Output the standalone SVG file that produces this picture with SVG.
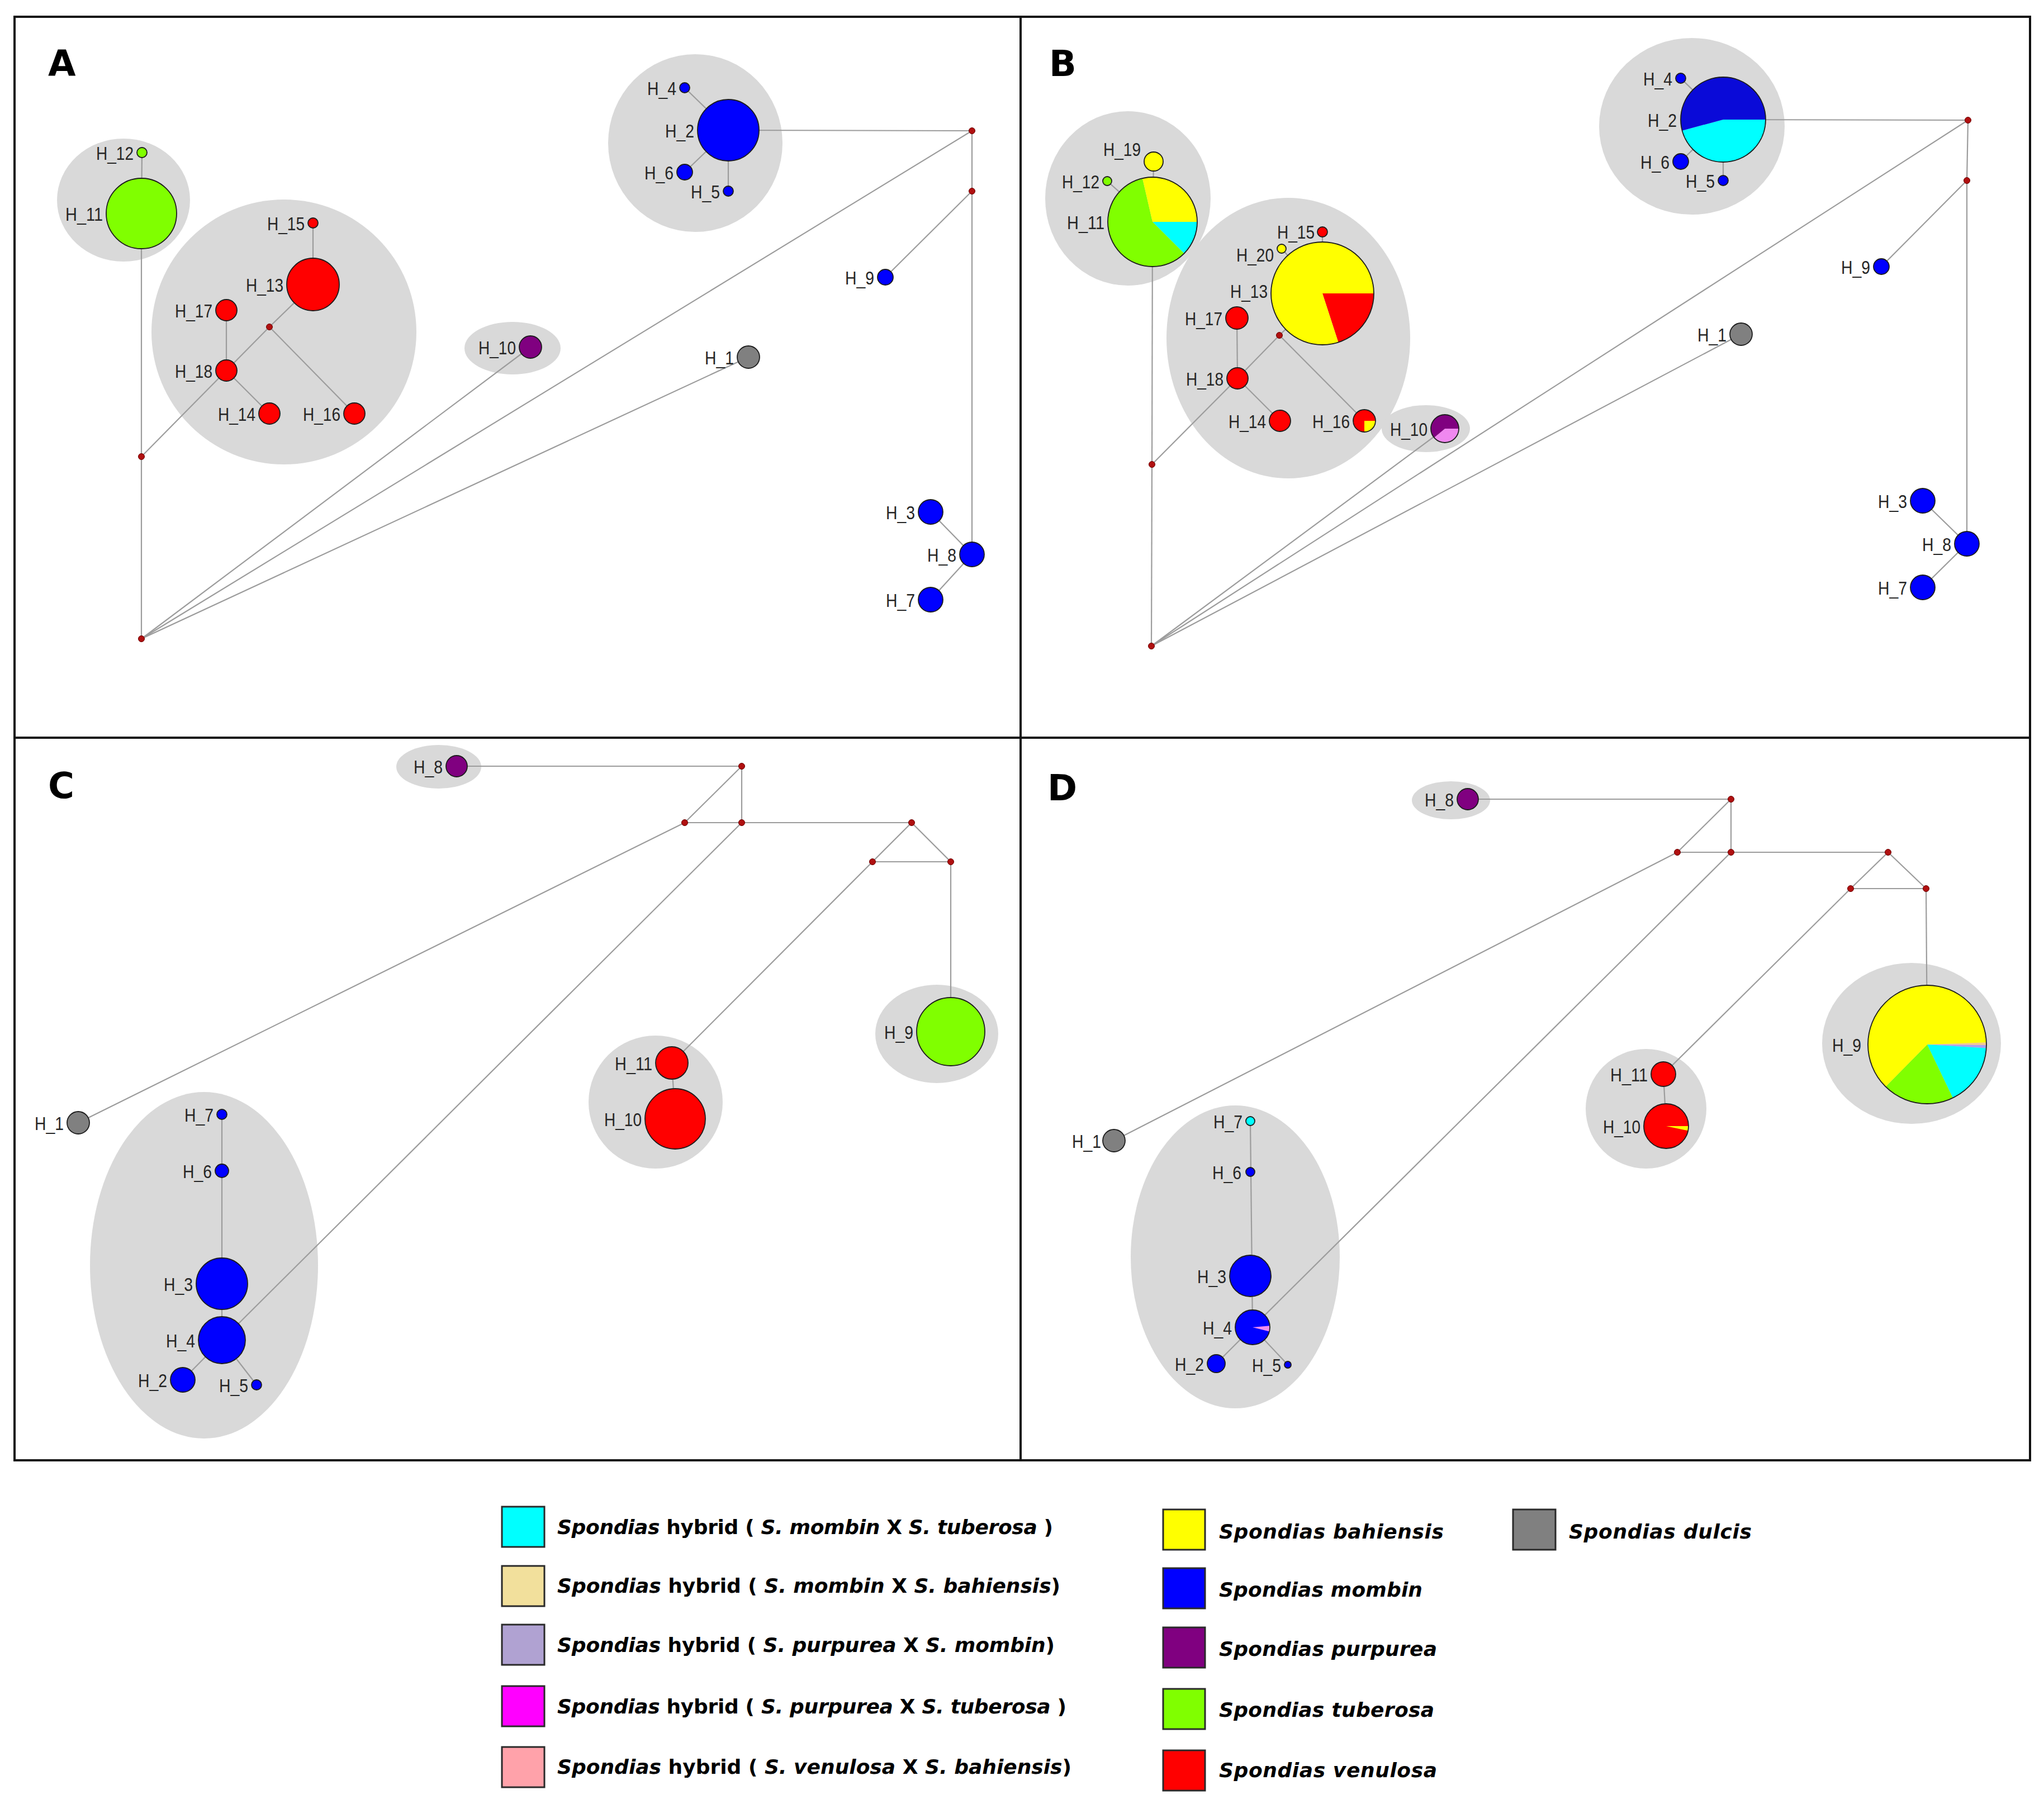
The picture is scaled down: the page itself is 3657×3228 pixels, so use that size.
<svg xmlns="http://www.w3.org/2000/svg" width="3657" height="3228" viewBox="0 0 3657 3228">
<style>
.bg{fill:#ffffff}
.frame{fill:none;stroke:#111;stroke-width:4}
.cl{fill:#d9d9d9}
.e{stroke:#9c9c9c;stroke-width:2.2;fill:none}
.n{stroke:#1c1c1c;stroke-width:1.8}
.o{fill:none;stroke:#1c1c1c;stroke-width:1.8}
.mv{fill:#b01010;stroke:#6a0000;stroke-width:1}
.lb{font-family:"Liberation Sans",Arial,sans-serif;font-size:34px;fill:#262626;text-anchor:end}
.pl{font-family:"DejaVu Sans","Liberation Sans",sans-serif;font-weight:bold;font-size:64px;fill:#000}
.lg{font-family:"DejaVu Sans","Liberation Sans",sans-serif;font-weight:bold;font-size:36px;fill:#000}
.it{font-style:italic}
.bx{stroke:#2a2a2a;stroke-width:3}
.blue{fill:#0000ff}.red{fill:#ff0000}.green{fill:#80ff00}.purple{fill:#800080}.grey{fill:#808080}.yellow{fill:#ffff00}.cyan{fill:#00ffff}
</style>
<rect class="bg" x="0" y="0" width="3657" height="3228"/>

<g id="frame">
<rect class="frame" x="26" y="30" width="3606" height="2583"/>
<line class="frame" x1="1826" y1="30" x2="1826" y2="2613"/>
<line class="frame" x1="26" y1="1320" x2="3632" y2="1320"/>
</g>

<g id="panel-labels">
<text class="pl" x="86" y="136">A</text>
<text class="pl" x="1877" y="136">B</text>
<text class="pl" x="86" y="1428">C</text>
<text class="pl" x="1874" y="1432">D</text>
</g>

<g id="clusters">
<ellipse class="cl" cx="221" cy="358" rx="119" ry="110"/>
<ellipse class="cl" cx="508" cy="594" rx="237" ry="237"/>
<ellipse class="cl" cx="917" cy="623" rx="86" ry="47"/>
<ellipse class="cl" cx="1244" cy="256" rx="156" ry="159"/>
<ellipse class="cl" cx="2018" cy="355" rx="148" ry="156"/>
<ellipse class="cl" cx="2305" cy="605" rx="218" ry="251"/>
<ellipse class="cl" cx="2551" cy="767" rx="79" ry="42"/>
<ellipse class="cl" cx="3027" cy="226" rx="166" ry="158"/>
<ellipse class="cl" cx="785" cy="1372" rx="76" ry="39"/>
<ellipse class="cl" cx="1676" cy="1850" rx="110" ry="88"/>
<ellipse class="cl" cx="1173" cy="1972" rx="120" ry="119"/>
<ellipse class="cl" cx="365" cy="2264" rx="204" ry="310"/>
<ellipse class="cl" cx="2596" cy="1432" rx="70" ry="34"/>
<ellipse class="cl" cx="3420" cy="1867" rx="160" ry="144"/>
<ellipse class="cl" cx="2945" cy="1984" rx="108" ry="107"/>
<ellipse class="cl" cx="2210" cy="2249" rx="187" ry="271"/>
</g>

<g id="connectors">
<!-- Panel A -->
<line class="e" x1="254" y1="273" x2="253" y2="382"/>
<line class="e" x1="253" y1="382" x2="253" y2="817"/>
<line class="e" x1="253" y1="817" x2="253" y2="1143"/>
<line class="e" x1="253" y1="817" x2="405" y2="663"/>
<line class="e" x1="405" y1="663" x2="482" y2="585"/>
<line class="e" x1="405" y1="555" x2="405" y2="663"/>
<line class="e" x1="405" y1="663" x2="482" y2="740"/>
<line class="e" x1="482" y1="585" x2="560" y2="509"/>
<line class="e" x1="482" y1="585" x2="634" y2="740"/>
<line class="e" x1="560" y1="399" x2="560" y2="509"/>
<line class="e" x1="253" y1="1143" x2="949" y2="621"/>
<line class="e" x1="253" y1="1143" x2="1739" y2="234"/>
<line class="e" x1="253" y1="1143" x2="1339" y2="639"/>
<line class="e" x1="1739" y1="234" x2="1303" y2="233"/>
<line class="e" x1="1739" y1="234" x2="1739" y2="342"/>
<line class="e" x1="1739" y1="342" x2="1739" y2="992"/>
<line class="e" x1="1739" y1="342" x2="1584" y2="496"/>
<line class="e" x1="1739" y1="992" x2="1665" y2="916"/>
<line class="e" x1="1739" y1="992" x2="1665" y2="1073"/>
<line class="e" x1="1303" y1="233" x2="1225" y2="157"/>
<line class="e" x1="1303" y1="233" x2="1225" y2="308"/>
<line class="e" x1="1303" y1="233" x2="1303" y2="342"/>
<!-- Panel B -->
<line class="e" x1="2064" y1="289" x2="2062" y2="397"/>
<line class="e" x1="1981" y1="324" x2="2062" y2="397"/>
<line class="e" x1="2062" y1="397" x2="2061" y2="831"/>
<line class="e" x1="2061" y1="831" x2="2060" y2="1156"/>
<line class="e" x1="2061" y1="831" x2="2214" y2="677"/>
<line class="e" x1="2214" y1="677" x2="2289" y2="600"/>
<line class="e" x1="2213" y1="569" x2="2214" y2="677"/>
<line class="e" x1="2214" y1="677" x2="2290" y2="753"/>
<line class="e" x1="2289" y1="600" x2="2366" y2="525"/>
<line class="e" x1="2289" y1="600" x2="2441" y2="753"/>
<line class="e" x1="2366" y1="415" x2="2366" y2="525"/>
<line class="e" x1="2293" y1="445" x2="2366" y2="525"/>
<line class="e" x1="2060" y1="1156" x2="2585" y2="767"/>
<line class="e" x1="2060" y1="1156" x2="3521" y2="215"/>
<line class="e" x1="2060" y1="1156" x2="3115" y2="598"/>
<line class="e" x1="3521" y1="215" x2="3083" y2="214"/>
<line class="e" x1="3521" y1="215" x2="3519" y2="323"/>
<line class="e" x1="3519" y1="323" x2="3519" y2="973"/>
<line class="e" x1="3519" y1="323" x2="3366" y2="477"/>
<line class="e" x1="3519" y1="973" x2="3440" y2="896"/>
<line class="e" x1="3519" y1="973" x2="3440" y2="1051"/>
<line class="e" x1="3083" y1="214" x2="3007" y2="140"/>
<line class="e" x1="3083" y1="214" x2="3007" y2="289"/>
<line class="e" x1="3083" y1="214" x2="3083" y2="323"/>
<!-- Panel C -->
<line class="e" x1="817" y1="1371" x2="1327" y2="1371"/>
<line class="e" x1="1327" y1="1371" x2="1327" y2="1472"/>
<line class="e" x1="1327" y1="1371" x2="1225" y2="1472"/>
<line class="e" x1="1225" y1="1472" x2="1631" y2="1472"/>
<line class="e" x1="1631" y1="1472" x2="1561" y2="1542"/>
<line class="e" x1="1631" y1="1472" x2="1701" y2="1542"/>
<line class="e" x1="1561" y1="1542" x2="1701" y2="1542"/>
<line class="e" x1="1701" y1="1542" x2="1701" y2="1846"/>
<line class="e" x1="1561" y1="1542" x2="1202" y2="1902"/>
<line class="e" x1="1202" y1="1902" x2="1208" y2="2002"/>
<line class="e" x1="1225" y1="1472" x2="140" y2="2009"/>
<line class="e" x1="1327" y1="1472" x2="397" y2="2398"/>
<line class="e" x1="397" y1="1994" x2="397" y2="2398"/>
<line class="e" x1="397" y1="2398" x2="327" y2="2469"/>
<line class="e" x1="397" y1="2398" x2="459" y2="2478"/>
<!-- Panel D -->
<line class="e" x1="2626" y1="1430" x2="3097" y2="1430"/>
<line class="e" x1="3097" y1="1430" x2="3097" y2="1525"/>
<line class="e" x1="3097" y1="1430" x2="3001" y2="1525"/>
<line class="e" x1="3001" y1="1525" x2="3378" y2="1525"/>
<line class="e" x1="3378" y1="1525" x2="3311" y2="1590"/>
<line class="e" x1="3378" y1="1525" x2="3446" y2="1590"/>
<line class="e" x1="3311" y1="1590" x2="3446" y2="1590"/>
<line class="e" x1="3446" y1="1590" x2="3448" y2="1869"/>
<line class="e" x1="3311" y1="1590" x2="2976" y2="1922"/>
<line class="e" x1="2976" y1="1922" x2="2981" y2="2015"/>
<line class="e" x1="3001" y1="1525" x2="1993" y2="2041"/>
<line class="e" x1="3097" y1="1525" x2="2241" y2="2375"/>
<line class="e" x1="2237" y1="2006" x2="2241" y2="2375"/>
<line class="e" x1="2241" y1="2375" x2="2176" y2="2440"/>
<line class="e" x1="2241" y1="2375" x2="2304" y2="2442"/>
</g>

<g id="median-vectors">
<circle class="mv" cx="253" cy="817" r="5.5"/>
<circle class="mv" cx="253" cy="1143" r="5.5"/>
<circle class="mv" cx="482" cy="585" r="5.5"/>
<circle class="mv" cx="1739" cy="234" r="5.5"/>
<circle class="mv" cx="1739" cy="342" r="5.5"/>
<circle class="mv" cx="2061" cy="831" r="5.5"/>
<circle class="mv" cx="2060" cy="1156" r="5.5"/>
<circle class="mv" cx="2289" cy="600" r="5.5"/>
<circle class="mv" cx="3521" cy="215" r="5.5"/>
<circle class="mv" cx="3519" cy="323" r="5.5"/>
<circle class="mv" cx="1327" cy="1371" r="5.5"/>
<circle class="mv" cx="1225" cy="1472" r="5.5"/>
<circle class="mv" cx="1327" cy="1472" r="5.5"/>
<circle class="mv" cx="1631" cy="1472" r="5.5"/>
<circle class="mv" cx="1561" cy="1542" r="5.5"/>
<circle class="mv" cx="1701" cy="1542" r="5.5"/>
<circle class="mv" cx="3097" cy="1430" r="5.5"/>
<circle class="mv" cx="3001" cy="1525" r="5.5"/>
<circle class="mv" cx="3097" cy="1525" r="5.5"/>
<circle class="mv" cx="3378" cy="1525" r="5.5"/>
<circle class="mv" cx="3311" cy="1590" r="5.5"/>
<circle class="mv" cx="3446" cy="1590" r="5.5"/>
</g>

<!-- Panel A nodes -->
<g id="A-H_1"><circle class="n grey" cx="1339" cy="639" r="20"/><text class="lb" x="1313" y="652" textLength="52" lengthAdjust="spacingAndGlyphs">H_1</text></g>
<g id="A-H_2"><circle class="n blue" cx="1303" cy="233" r="55"/><text class="lb" x="1242" y="246" textLength="52" lengthAdjust="spacingAndGlyphs">H_2</text></g>
<g id="A-H_3"><circle class="n blue" cx="1665" cy="916" r="22"/><text class="lb" x="1637" y="929" textLength="52" lengthAdjust="spacingAndGlyphs">H_3</text></g>
<g id="A-H_4"><circle class="n blue" cx="1225" cy="157" r="9"/><text class="lb" x="1210" y="170" textLength="52" lengthAdjust="spacingAndGlyphs">H_4</text></g>
<g id="A-H_5"><circle class="n blue" cx="1303" cy="342" r="9"/><text class="lb" x="1288" y="355" textLength="52" lengthAdjust="spacingAndGlyphs">H_5</text></g>
<g id="A-H_6"><circle class="n blue" cx="1225" cy="308" r="14"/><text class="lb" x="1205" y="321" textLength="52" lengthAdjust="spacingAndGlyphs">H_6</text></g>
<g id="A-H_7"><circle class="n blue" cx="1665" cy="1073" r="22"/><text class="lb" x="1637" y="1086" textLength="52" lengthAdjust="spacingAndGlyphs">H_7</text></g>
<g id="A-H_8"><circle class="n blue" cx="1739" cy="992" r="22"/><text class="lb" x="1711" y="1005" textLength="52" lengthAdjust="spacingAndGlyphs">H_8</text></g>
<g id="A-H_9"><circle class="n blue" cx="1584" cy="496" r="14"/><text class="lb" x="1564" y="509" textLength="52" lengthAdjust="spacingAndGlyphs">H_9</text></g>
<g id="A-H_10"><circle class="n purple" cx="949" cy="621" r="20"/><text class="lb" x="923" y="634" textLength="67" lengthAdjust="spacingAndGlyphs">H_10</text></g>
<g id="A-H_11"><circle class="n green" cx="253" cy="382" r="63"/><text class="lb" x="184" y="395" textLength="67" lengthAdjust="spacingAndGlyphs">H_11</text></g>
<g id="A-H_12"><circle class="n green" cx="254" cy="273" r="9"/><text class="lb" x="239" y="286" textLength="67" lengthAdjust="spacingAndGlyphs">H_12</text></g>
<g id="A-H_13"><circle class="n red" cx="560" cy="509" r="47"/><text class="lb" x="507" y="522" textLength="67" lengthAdjust="spacingAndGlyphs">H_13</text></g>
<g id="A-H_14"><circle class="n red" cx="482" cy="740" r="19"/><text class="lb" x="457" y="753" textLength="67" lengthAdjust="spacingAndGlyphs">H_14</text></g>
<g id="A-H_15"><circle class="n red" cx="560" cy="399" r="9"/><text class="lb" x="545" y="412" textLength="67" lengthAdjust="spacingAndGlyphs">H_15</text></g>
<g id="A-H_16"><circle class="n red" cx="634" cy="740" r="19"/><text class="lb" x="609" y="753" textLength="67" lengthAdjust="spacingAndGlyphs">H_16</text></g>
<g id="A-H_17"><circle class="n red" cx="405" cy="555" r="19"/><text class="lb" x="380" y="568" textLength="67" lengthAdjust="spacingAndGlyphs">H_17</text></g>
<g id="A-H_18"><circle class="n red" cx="405" cy="663" r="19"/><text class="lb" x="380" y="676" textLength="67" lengthAdjust="spacingAndGlyphs">H_18</text></g>

<!-- Panel B nodes -->
<g id="B-H_1"><circle class="n grey" cx="3115" cy="598" r="20"/><text class="lb" x="3089" y="611" textLength="52" lengthAdjust="spacingAndGlyphs">H_1</text></g>
<g id="B-H_2">
<path fill="#00ffff" d="M3083 214 L3159 214 A76 76 0 0 1 3009.6 233.7 Z"/>
<path fill="#0a0ad8" d="M3083 214 L3009.6 233.7 A76 76 0 1 1 3159 214 Z"/>
<circle class="o" cx="3083" cy="214" r="76"/>
<text class="lb" x="3000" y="227" textLength="52" lengthAdjust="spacingAndGlyphs">H_2</text></g>
<g id="B-H_3"><circle class="n blue" cx="3440" cy="896" r="22"/><text class="lb" x="3412" y="909" textLength="52" lengthAdjust="spacingAndGlyphs">H_3</text></g>
<g id="B-H_4"><circle class="n blue" cx="3007" cy="140" r="9"/><text class="lb" x="2992" y="153" textLength="52" lengthAdjust="spacingAndGlyphs">H_4</text></g>
<g id="B-H_5"><circle class="n blue" cx="3083" cy="323" r="9"/><text class="lb" x="3068" y="336" textLength="52" lengthAdjust="spacingAndGlyphs">H_5</text></g>
<g id="B-H_6"><circle class="n blue" cx="3007" cy="289" r="14"/><text class="lb" x="2987" y="302" textLength="52" lengthAdjust="spacingAndGlyphs">H_6</text></g>
<g id="B-H_7"><circle class="n blue" cx="3440" cy="1051" r="22"/><text class="lb" x="3412" y="1064" textLength="52" lengthAdjust="spacingAndGlyphs">H_7</text></g>
<g id="B-H_8"><circle class="n blue" cx="3519" cy="973" r="22"/><text class="lb" x="3491" y="986" textLength="52" lengthAdjust="spacingAndGlyphs">H_8</text></g>
<g id="B-H_9"><circle class="n blue" cx="3366" cy="477" r="14"/><text class="lb" x="3346" y="490" textLength="52" lengthAdjust="spacingAndGlyphs">H_9</text></g>
<g id="B-H_10">
<path fill="#f088f0" d="M2585 767 L2610 767 A25 25 0 0 1 2565.85 783.07 Z"/>
<path fill="#800080" d="M2585 767 L2565.85 783.07 A25 25 0 1 1 2610 767 Z"/>
<circle class="o" cx="2585" cy="767" r="25"/>
<text class="lb" x="2554" y="780" textLength="67" lengthAdjust="spacingAndGlyphs">H_10</text></g>
<g id="B-H_11">
<path fill="#00ffff" d="M2062 397 L2142 397 A80 80 0 0 1 2118.57 453.57 Z"/>
<path fill="#80ff00" d="M2062 397 L2118.57 453.57 A80 80 0 1 1 2044 319.05 Z"/>
<path fill="#ffff00" d="M2062 397 L2044 319.05 A80 80 0 0 1 2142 397 Z"/>
<circle class="o" cx="2062" cy="397" r="80"/>
<text class="lb" x="1976" y="410" textLength="67" lengthAdjust="spacingAndGlyphs">H_11</text></g>
<g id="B-H_12"><circle class="n green" cx="1981" cy="324" r="8"/><text class="lb" x="1967" y="337" textLength="67" lengthAdjust="spacingAndGlyphs">H_12</text></g>
<g id="B-H_13">
<path fill="#ff0000" d="M2366 525 L2458 525 A92 92 0 0 1 2394.43 612.5 Z"/>
<path fill="#ffff00" d="M2366 525 L2394.43 612.5 A92 92 0 1 1 2458 525 Z"/>
<circle class="o" cx="2366" cy="525" r="92"/>
<text class="lb" x="2268" y="533" textLength="67" lengthAdjust="spacingAndGlyphs">H_13</text></g>
<g id="B-H_14"><circle class="n red" cx="2290" cy="753" r="19"/><text class="lb" x="2265" y="766" textLength="67" lengthAdjust="spacingAndGlyphs">H_14</text></g>
<g id="B-H_15"><circle class="n red" cx="2366" cy="415" r="9"/><text class="lb" x="2352" y="427" textLength="67" lengthAdjust="spacingAndGlyphs">H_15</text></g>
<g id="B-H_16">
<path fill="#ffff00" d="M2441 753 L2461 753 A20 20 0 0 1 2441 773 Z"/>
<path fill="#ff0000" d="M2441 753 L2441 773 A20 20 0 1 1 2461 753 Z"/>
<circle class="o" cx="2441" cy="753" r="20"/>
<text class="lb" x="2415" y="766" textLength="67" lengthAdjust="spacingAndGlyphs">H_16</text></g>
<g id="B-H_17"><circle class="n red" cx="2213" cy="569" r="20"/><text class="lb" x="2187" y="582" textLength="67" lengthAdjust="spacingAndGlyphs">H_17</text></g>
<g id="B-H_18"><circle class="n red" cx="2214" cy="677" r="19"/><text class="lb" x="2189" y="690" textLength="67" lengthAdjust="spacingAndGlyphs">H_18</text></g>
<g id="B-H_19"><circle class="n yellow" cx="2064" cy="289" r="17"/><text class="lb" x="2041" y="279" textLength="67" lengthAdjust="spacingAndGlyphs">H_19</text></g>
<g id="B-H_20"><circle class="n yellow" cx="2293" cy="445" r="8"/><text class="lb" x="2279" y="468" textLength="67" lengthAdjust="spacingAndGlyphs">H_20</text></g>

<!-- Panel C nodes -->
<g id="C-H_1"><circle class="n grey" cx="140" cy="2009" r="20"/><text class="lb" x="114" y="2022" textLength="52" lengthAdjust="spacingAndGlyphs">H_1</text></g>
<g id="C-H_2"><circle class="n blue" cx="327" cy="2469" r="22"/><text class="lb" x="299" y="2482" textLength="52" lengthAdjust="spacingAndGlyphs">H_2</text></g>
<g id="C-H_3"><circle class="n blue" cx="397" cy="2297" r="46"/><text class="lb" x="345" y="2310" textLength="52" lengthAdjust="spacingAndGlyphs">H_3</text></g>
<g id="C-H_4"><circle class="n blue" cx="397" cy="2398" r="42"/><text class="lb" x="349" y="2411" textLength="52" lengthAdjust="spacingAndGlyphs">H_4</text></g>
<g id="C-H_5"><circle class="n blue" cx="459" cy="2478" r="9"/><text class="lb" x="444" y="2491" textLength="52" lengthAdjust="spacingAndGlyphs">H_5</text></g>
<g id="C-H_6"><circle class="n blue" cx="397" cy="2095" r="12"/><text class="lb" x="379" y="2108" textLength="52" lengthAdjust="spacingAndGlyphs">H_6</text></g>
<g id="C-H_7"><circle class="n blue" cx="397" cy="1994" r="9"/><text class="lb" x="382" y="2007" textLength="52" lengthAdjust="spacingAndGlyphs">H_7</text></g>
<g id="C-H_8"><circle class="n purple" cx="817" cy="1371" r="19"/><text class="lb" x="792" y="1384" textLength="52" lengthAdjust="spacingAndGlyphs">H_8</text></g>
<g id="C-H_9"><circle class="n green" cx="1701" cy="1846" r="61"/><text class="lb" x="1634" y="1859" textLength="52" lengthAdjust="spacingAndGlyphs">H_9</text></g>
<g id="C-H_10"><circle class="n red" cx="1208" cy="2002" r="54"/><text class="lb" x="1148" y="2015" textLength="67" lengthAdjust="spacingAndGlyphs">H_10</text></g>
<g id="C-H_11"><circle class="n red" cx="1202" cy="1902" r="29"/><text class="lb" x="1167" y="1915" textLength="67" lengthAdjust="spacingAndGlyphs">H_11</text></g>

<!-- Panel D nodes -->
<g id="D-H_1"><circle class="n grey" cx="1993" cy="2041" r="20"/><text class="lb" x="1970" y="2054" textLength="52" lengthAdjust="spacingAndGlyphs">H_1</text></g>
<g id="D-H_2"><circle class="n blue" cx="2176" cy="2440" r="16"/><text class="lb" x="2154" y="2453" textLength="52" lengthAdjust="spacingAndGlyphs">H_2</text></g>
<g id="D-H_3"><circle class="n blue" cx="2237" cy="2283" r="37"/><text class="lb" x="2194" y="2296" textLength="52" lengthAdjust="spacingAndGlyphs">H_3</text></g>
<g id="D-H_4">
<circle fill="#0000ff" cx="2241" cy="2375" r="31"/>
<path fill="#f08cf0" d="M2241 2375 L2271.88 2372.3 A31 31 0 0 1 2271.08 2382.5 Z"/>
<circle class="o" cx="2241" cy="2375" r="31"/>
<text class="lb" x="2204" y="2388" textLength="52" lengthAdjust="spacingAndGlyphs">H_4</text></g>
<g id="D-H_5"><circle class="n blue" cx="2304" cy="2442" r="6"/><text class="lb" x="2292" y="2455" textLength="52" lengthAdjust="spacingAndGlyphs">H_5</text></g>
<g id="D-H_6"><circle class="n blue" cx="2237" cy="2097" r="8"/><text class="lb" x="2221" y="2110" textLength="52" lengthAdjust="spacingAndGlyphs">H_6</text></g>
<g id="D-H_7"><circle class="n cyan" cx="2237" cy="2006" r="8"/><text class="lb" x="2223" y="2019" textLength="52" lengthAdjust="spacingAndGlyphs">H_7</text></g>
<g id="D-H_8"><circle class="n purple" cx="2626" cy="1430" r="19"/><text class="lb" x="2601" y="1443" textLength="52" lengthAdjust="spacingAndGlyphs">H_8</text></g>
<g id="D-H_9">
<path fill="#f4c890" d="M3448 1869 L3553.94 1865.3 A106 106 0 0 1 3554 1869.93 Z"/>
<path fill="#a8a0f0" d="M3448 1869 L3554 1869.93 A106 106 0 0 1 3553.8 1875.47 Z"/>
<path fill="#00ffff" d="M3448 1869 L3553.8 1875.47 A106 106 0 0 1 3493.8 1964.59 Z"/>
<path fill="#80ff00" d="M3448 1869 L3493.8 1964.59 A106 106 0 0 1 3373.57 1944.47 Z"/>
<path fill="#ffff00" d="M3448 1869 L3373.57 1944.47 A106 106 0 1 1 3553.94 1865.3 Z"/>
<circle class="o" cx="3448" cy="1869" r="106"/>
<text class="lb" x="3330" y="1882" textLength="52" lengthAdjust="spacingAndGlyphs">H_9</text></g>
<g id="D-H_10">
<circle fill="#ff0000" cx="2981" cy="2015" r="40"/>
<path fill="#ffff00" d="M2981 2015 L3021 2015 A40 40 0 0 1 3020.13 2023.32 Z"/>
<circle class="o" cx="2981" cy="2015" r="40"/>
<text class="lb" x="2935" y="2028" textLength="67" lengthAdjust="spacingAndGlyphs">H_10</text></g>
<g id="D-H_11"><circle class="n red" cx="2976" cy="1922" r="22"/><text class="lb" x="2948" y="1935" textLength="67" lengthAdjust="spacingAndGlyphs">H_11</text></g>

<g id="legend">
<rect class="bx" x="898" y="2696" width="76" height="72" fill="#00ffff"/>
<rect class="bx" x="898" y="2802" width="76" height="72" fill="#f2e09c"/>
<rect class="bx" x="898" y="2907" width="76" height="72" fill="#b0a2d2"/>
<rect class="bx" x="898" y="3017" width="76" height="72" fill="#ff00ff"/>
<rect class="bx" x="898" y="3126" width="76" height="72" fill="#ffa2aa"/>
<rect class="bx" x="2081" y="2701" width="75" height="72" fill="#ffff00"/>
<rect class="bx" x="2081" y="2806" width="75" height="72" fill="#0000ff"/>
<rect class="bx" x="2081" y="2912" width="75" height="72" fill="#800080"/>
<rect class="bx" x="2081" y="3022" width="75" height="72" fill="#80ff00"/>
<rect class="bx" x="2081" y="3132" width="75" height="72" fill="#ff0000"/>
<rect class="bx" x="2707" y="2701" width="76" height="72" fill="#808080"/>
<text class="lg" x="997" y="2745" textLength="887" lengthAdjust="spacing"><tspan class="it">Spondias</tspan> hybrid ( <tspan class="it">S. mombin</tspan> X <tspan class="it">S. tuberosa</tspan> )</text>
<text class="lg" x="997" y="2850" textLength="900" lengthAdjust="spacing"><tspan class="it">Spondias</tspan> hybrid ( <tspan class="it">S. mombin</tspan> X <tspan class="it">S. bahiensis</tspan>)</text>
<text class="lg" x="997" y="2956" textLength="890" lengthAdjust="spacing"><tspan class="it">Spondias</tspan> hybrid ( <tspan class="it">S. purpurea</tspan> X <tspan class="it">S. mombin</tspan>)</text>
<text class="lg" x="997" y="3066" textLength="911" lengthAdjust="spacing"><tspan class="it">Spondias</tspan> hybrid ( <tspan class="it">S. purpurea</tspan> X <tspan class="it">S. tuberosa</tspan> )</text>
<text class="lg" x="997" y="3174" textLength="920" lengthAdjust="spacing"><tspan class="it">Spondias</tspan> hybrid ( <tspan class="it">S. venulosa</tspan> X <tspan class="it">S. bahiensis</tspan>)</text>
<text class="lg it" x="2181" y="2753" textLength="402" lengthAdjust="spacing">Spondias bahiensis</text>
<text class="lg it" x="2181" y="2857" textLength="364" lengthAdjust="spacing">Spondias mombin</text>
<text class="lg it" x="2181" y="2963" textLength="390" lengthAdjust="spacing">Spondias purpurea</text>
<text class="lg it" x="2181" y="3072" textLength="385" lengthAdjust="spacing">Spondias tuberosa</text>
<text class="lg it" x="2181" y="3180" textLength="390" lengthAdjust="spacing">Spondias venulosa</text>
<text class="lg it" x="2807" y="2753" textLength="327" lengthAdjust="spacing">Spondias dulcis</text>
</g>
</svg>
